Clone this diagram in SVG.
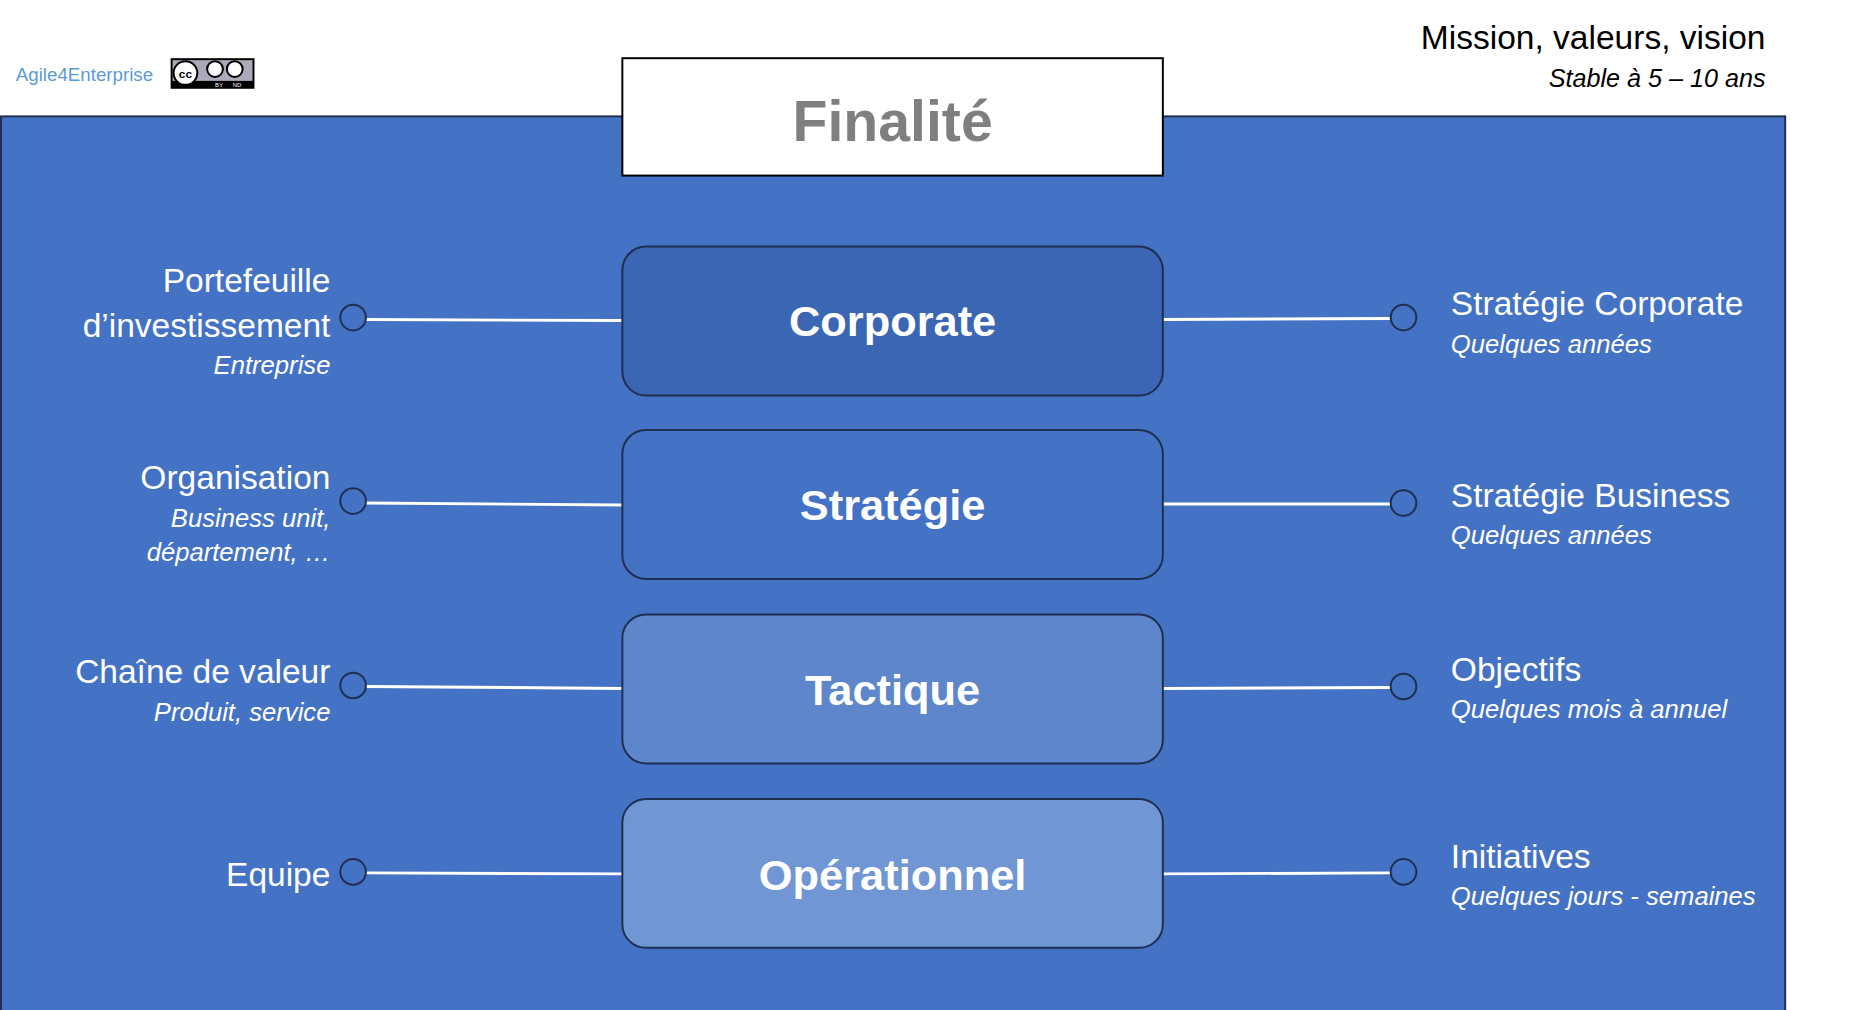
<svg xmlns="http://www.w3.org/2000/svg" width="1856" height="1010" viewBox="0 0 1856 1010">
<style>
text{font-family:"Liberation Sans","Open Sans",sans-serif}
.box{stroke:#1F2F50;stroke-width:2}
.lbl{fill:#fff;font-weight:bold;font-size:44px;text-anchor:middle}
.m{fill:#fff;font-size:34px}
.s{fill:#fff;font-size:26px;font-style:italic}
.l{text-anchor:end}
.c{fill:#4472C4;stroke:#1F2F50;stroke-width:2}
.ln{stroke:#fff;stroke-width:3}
</style>
<rect width="1856" height="1010" fill="#fff"/>
<g transform="scale(0.9863)">
<rect x="1" y="118" width="1809" height="920" fill="#4472C4" stroke="#1F2F50" stroke-width="2"/>
<text x="16" y="82" font-size="19" fill="#5B9BD5">Agile4Enterprise</text>
<g id="cc"><rect x="173" y="59" width="85" height="31" fill="#000"/><rect x="175" y="61" width="81" height="21" fill="#aab"/><circle cx="188" cy="74" r="12" fill="#fff" stroke="#000" stroke-width="2"/><text x="188" y="79" font-size="12" text-anchor="middle" font-weight="bold">cc</text><circle cx="218" cy="70" r="8" fill="#fff" stroke="#000" stroke-width="2"/><circle cx="238" cy="70" r="8" fill="#fff" stroke="#000" stroke-width="2"/><text x="218" y="88" font-size="6" fill="#fff">BY</text><text x="236" y="88" font-size="6" fill="#fff">ND</text></g>
<text x="1790" y="50" font-size="34" text-anchor="end">Mission, valeurs, vision</text>
<text x="1790" y="88" font-size="25.5" font-style="italic" text-anchor="end">Stable à 5 – 10 ans</text>
<g id="finalite"><rect x="631" y="59" width="548" height="119" fill="#fff" stroke="#000" stroke-width="2"/><text x="905" y="143" font-size="58" font-weight="bold" fill="#7F7F7F" text-anchor="middle">Finalité</text></g>
<g id="connectors">
<line class="ln" x1="371" y1="324" x2="631" y2="325"/><line class="ln" x1="1179" y1="324" x2="1410" y2="323"/>
<line class="ln" x1="371" y1="510" x2="631" y2="512"/><line class="ln" x1="1179" y1="511" x2="1410" y2="511"/>
<line class="ln" x1="371" y1="696" x2="631" y2="698"/><line class="ln" x1="1179" y1="698" x2="1410" y2="697"/>
<line class="ln" x1="371" y1="885" x2="631" y2="886"/><line class="ln" x1="1179" y1="886" x2="1410" y2="885"/>
<circle class="c" cx="358" cy="322" r="13"/><circle class="c" cx="1423" cy="322" r="13"/>
<circle class="c" cx="358" cy="508" r="13"/><circle class="c" cx="1423" cy="510" r="13"/>
<circle class="c" cx="358" cy="695" r="13"/><circle class="c" cx="1423" cy="696" r="13"/>
<circle class="c" cx="358" cy="884" r="13"/><circle class="c" cx="1423" cy="884" r="13"/>
</g>
<g id="corporate"><rect class="box" x="631" y="250" width="548" height="151" rx="24" fill="#3A66B4"/><text class="lbl" x="905" y="341">Corporate</text></g>
<g id="strategie"><rect class="box" x="631" y="436" width="548" height="151" rx="24" fill="#4472C4"/><text class="lbl" x="905" y="527">Stratégie</text></g>
<g id="tactique"><rect class="box" x="631" y="623" width="548" height="151" rx="24" fill="#5E86CB"/><text class="lbl" x="905" y="715">Tactique</text></g>
<g id="operationnel"><rect class="box" x="631" y="810" width="548" height="151" rx="24" fill="#7196D4"/><text class="lbl" x="905" y="902">Opérationnel</text></g>
<g id="left">
<text class="m l" x="335" y="296">Portefeuille</text><text class="m l" x="335" y="342">d’investissement</text><text class="s l" x="335" y="379">Entreprise</text>
<text class="m l" x="335" y="496">Organisation</text><text class="s l" x="335" y="534">Business unit,</text><text class="s l" x="335" y="569">département, …</text>
<text class="m l" x="335" y="692">Chaîne de valeur</text><text class="s l" x="335" y="731">Produit, service</text>
<text class="m l" x="335" y="898">Equipe</text>
</g>
<g id="right">
<text class="m" x="1471" y="319">Stratégie Corporate</text><text class="s" x="1471" y="358">Quelques années</text>
<text class="m" x="1471" y="514">Stratégie Business</text><text class="s" x="1471" y="552">Quelques années</text>
<text class="m" x="1471" y="690">Objectifs</text><text class="s" x="1471" y="728">Quelques mois à annuel</text>
<text class="m" x="1471" y="880">Initiatives</text><text class="s" x="1471" y="918">Quelques jours - semaines</text>
</g>
</g>
</svg>
